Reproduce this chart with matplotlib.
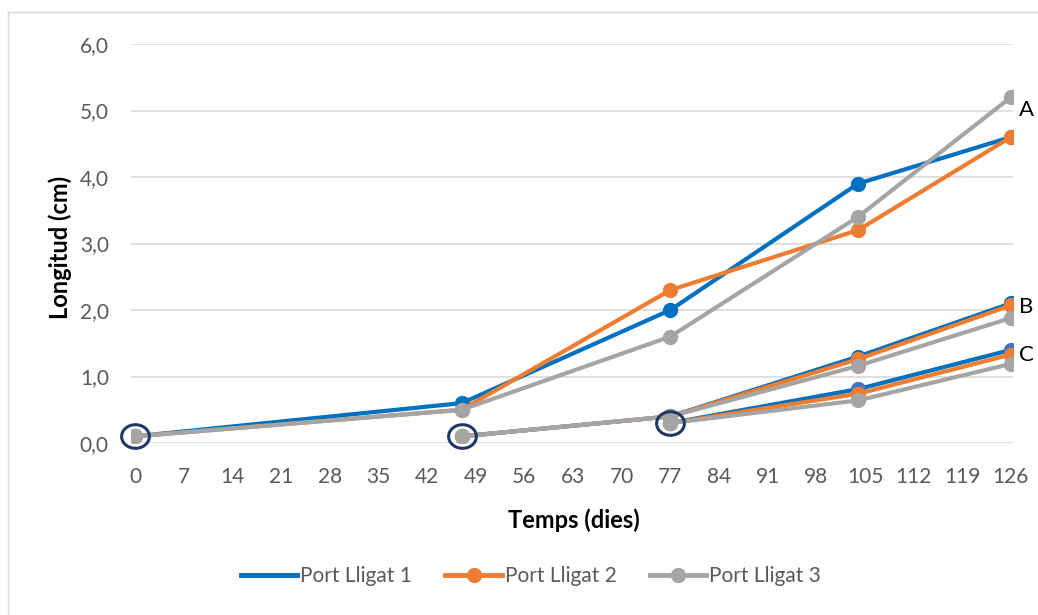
import numpy as np
import matplotlib.pyplot as plt
from matplotlib.lines import Line2D
from matplotlib.path import Path

plt.rcParams['font.family'] = ['Lato', 'DejaVu Sans']

# Measurement days for each batch (A starts at day 0, B at day 47, C at day 77)
days_a = [0, 47, 77, 104, 126]
days_b = [47, 77, 104, 126]
days_c = [77, 104, 126]

# Length (cm) per site and batch
pl1_a = [0.1, 0.6, 2.0, 3.9, 4.6]
pl2_a = [0.1, 0.5, 2.3, 3.2, 4.6]
pl3_a = [0.1, 0.5, 1.6, 3.4, 5.2]

pl1_b = [0.1, 0.4, 1.3, 2.1]
pl2_b = [0.1, 0.4, 1.26, 2.07]
pl3_b = [0.1, 0.4, 1.16, 1.88]

pl1_c = [0.3, 0.81, 1.4]
pl2_c = [0.3, 0.74, 1.33]
pl3_c = [0.3, 0.64, 1.19]

# Start points of each batch, ringed
start_days = [0, 47, 77]
start_vals = [0.1, 0.1, 0.3]

batch_labels = ["A", "B", "C"]
batch_label_y = [5.0, 2.05, 1.33]

series_names = ["Port Lligat 1", "Port Lligat 2", "Port Lligat 3"]
colors = ["#0070C0", "#ED7D31", "#A5A5A5"]

W, H = 1038, 615
fig = plt.figure(figsize=(W / 100, H / 100), dpi=100, facecolor="white")
ax = fig.add_axes([131 / W, (H - 443) / H, (1013 - 131) / W, (443 - 44) / H])

groups = [
    (days_a, [pl1_a, pl2_a, pl3_a]),
    (days_b, [pl1_b, pl2_b, pl3_b]),
    (days_c, [pl1_c, pl2_c, pl3_c]),
]
z = 3
for gi, (days, vals) in enumerate(groups):
    for si, v in enumerate(vals):
        mfc = colors[si]
        if gi == 2 and si == 0:
            mfc = "#4472C4"
        ax.plot(days, v, color=colors[si], lw=3.0, marker="o", ms=10,
                mfc=mfc, mec=mfc, solid_capstyle="round", zorder=z)
        z += 1

# slightly flattened ring around the start points
theta = np.linspace(0, 2 * np.pi, 60)
ring = Path(np.column_stack([np.cos(theta), 0.85 * np.sin(theta)]))
ax.plot(start_days, start_vals, ls="none", marker=ring, ms=20,
        mfc="none", mec="#1F3864", mew=2.2, zorder=20, clip_on=False)

for lab, y in zip(batch_labels, batch_label_y):
    ax.text(127.2, y, lab, fontsize=16, color="black", ha="left",
            va="center", clip_on=False)

ax.set_xlim(-0.6, 126.3)
ax.set_ylim(0, 6)
ax.set_xticks(np.arange(0, 127, 7))
ax.set_yticks(np.arange(0, 6.1, 1))
ax.set_yticklabels([f"{v:.1f}".replace(".", ",") for v in np.arange(0, 6.1, 1)])
ax.tick_params(axis="both", length=0, labelsize=15, labelcolor="#595959")
ax.tick_params(axis="x", pad=17)
ax.tick_params(axis="y", pad=16)
ax.grid(axis="y", color="#D9D9D9", lw=1.2)
ax.set_axisbelow(True)
for s in ax.spines.values():
    s.set_visible(False)

ax.set_xlabel("Temps (dies)", fontsize=17, fontweight="bold", va="center")
ax.xaxis.set_label_coords(0.502, -0.193)
ax.set_ylabel("Longitud (cm)", fontsize=17, fontweight="bold", va="center")
ax.yaxis.set_label_coords(-0.08, 0.49)

handles = [
    Line2D([], [], color=colors[0], lw=3.5),
    Line2D([], [], color=colors[1], lw=3.5, marker="o", ms=10),
    Line2D([], [], color=colors[2], lw=3.5, marker="o", ms=10),
]
leg = fig.legend(handles, series_names, loc="center", bbox_to_anchor=(531 / W, (H - 576) / H),
                 ncol=3, frameon=False, fontsize=15, handlelength=2.7,
                 handletextpad=0.15, columnspacing=1.6)
for t in leg.get_texts():
    t.set_color("#595959")

# outer chart border
fig.add_artist(plt.Line2D([8 / W, 1], [1 - 12 / H, 1 - 12 / H], color="#D9D9D9", lw=1))
fig.add_artist(plt.Line2D([8 / W, 8 / W], [0, 1 - 12 / H], color="#D9D9D9", lw=1))

fig.savefig("out.png", dpi=100, facecolor="white")
